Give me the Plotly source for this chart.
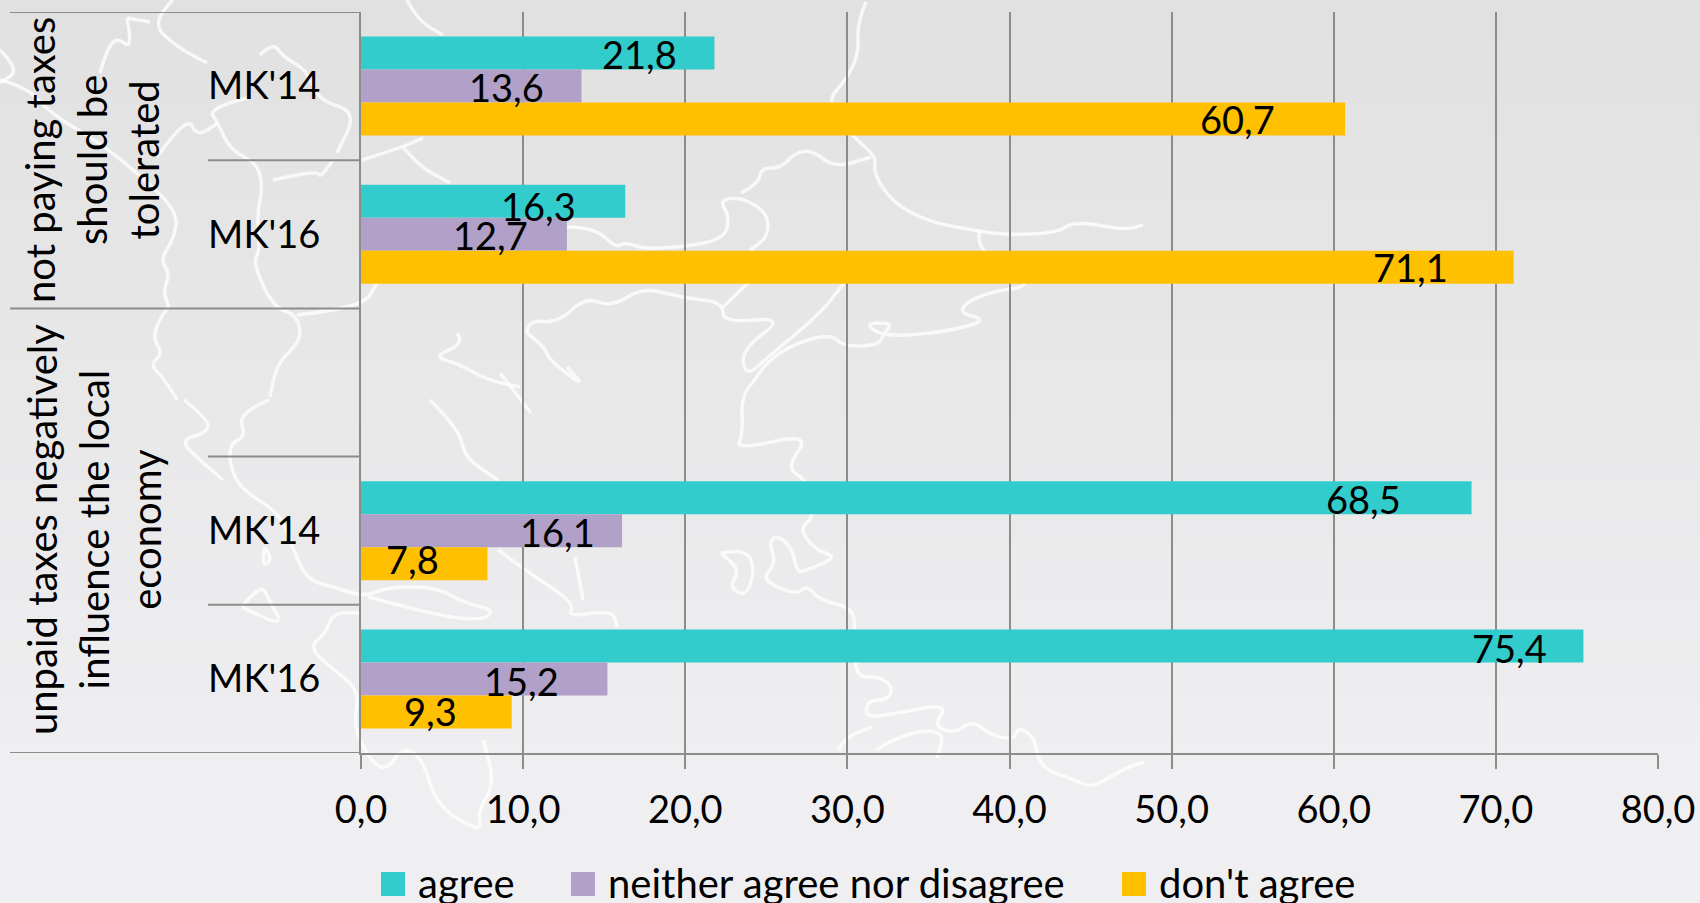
import plotly.graph_objects as go

# ----------------------- data ------------------
slots = ["MK'14", "MK'16", "", "MK'14", "MK'16"]
slot_pos = [0, 1, 2, 3, 4]
groups = ["not paying taxes<br>should be<br>tolerated",
          "unpaid taxes negatively<br>influence the local<br>economy"]

agree = [21.8, 16.3, None, 68.5, 75.4]
neither = [13.6, 12.7, None, 16.1, 15.2]
dont_agree = [60.7, 71.1, None, 7.8, 9.3]

x_ticks = [0, 10, 20, 30, 40, 50, 60, 70, 80]

# ----------------------- style ------------------
FONT = "Lato"
NUM_SIZE = 38
TEXT_SIZE = 40
GRID = "#8c8c8c"
COLORS = ["#33cccc", "#b1a0c7", "#ffc000"]
NAMES = ["agree", "neither agree nor disagree", "don't agree"]

# frame of the plot area in page pixels
LEFT, RIGHT, TOP, BOTTOM = 361, 1658, 12, 753
W, H = 1700, 903

# how far each value label sits back from its bar end (px), and its nudge down
label_back = [[75, 87, None, 108, 74], [75, 76, None, 65, 86], [108, 103, None, 75, 81]]
label_down = [[1, 5, None, 1, 2], [1, 1, None, 1, 2], [0, 0, None, -5, -1]]

# white map outline in the slide background, page pixels
map_lines = [
    [(866, 2), (857, 23), (859, 53), (846, 80), (826, 102), (853, 137), (877, 157), (873, 173), (893, 203),
     (929, 222), (973, 230), (1004, 235), (1058, 233), (1074, 221), (1125, 230), (1143, 225)],
    [(980, 230), (973, 250), (1040, 285), (982, 293), (955, 312), (989, 320), (946, 332), (884, 337), (864, 323),
     (893, 323), (884, 333), (879, 345), (844, 347), (830, 333), (786, 347), (763, 367), (757, 377), (741, 397),
     (743, 433), (736, 450), (811, 433), (786, 468), (807, 480), (815, 517), (799, 528), (815, 550), (838, 557),
     (807, 570), (797, 573), (792, 547), (776, 535), (769, 543), (776, 563), (761, 580), (796, 595), (807, 585),
     (819, 600), (853, 608), (855, 630), (855, 663), (859, 677), (880, 677), (893, 687), (888, 700), (868, 700),
     (865, 717), (888, 715), (949, 703), (933, 727), (956, 733), (972, 720), (991, 735), (1014, 740), (1018, 727),
     (1035, 737), (1039, 767), (1075, 780), (1092, 788), (1125, 768), (1144, 762)],
    [(721, 553), (746, 548), (755, 570), (746, 597), (729, 587), (740, 570), (721, 553)],
    [(838, 750), (845, 737), (872, 727)],
    [(876, 750), (903, 733), (945, 730), (937, 758)],
    [(127, 18), (133, 50), (117, 37), (107, 50), (100, 73)],
    [(173, 0), (150, 22), (177, 47), (207, 63)],
    [(127, 18), (150, 22)],
    [(260, 55), (273, 42), (283, 57), (307, 70), (318, 100), (357, 112), (337, 153)],
    [(247, 98), (208, 108), (218, 123), (230, 150), (257, 163), (263, 187), (257, 213), (260, 250), (253, 263),
     (273, 307), (297, 315), (302, 340), (277, 363), (270, 397)],
    [(157, 157), (187, 115), (197, 137), (218, 123)],
    [(0, 80), (27, 87), (50, 113), (100, 143), (137, 173), (177, 210), (175, 237), (160, 260), (170, 273),
     (163, 293), (170, 307), (163, 313), (152, 337), (163, 353), (150, 365), (163, 377), (177, 400)],
    [(0, 50), (20, 70), (0, 83)],
    [(362, 160), (403, 147), (423, 138)],
    [(403, 147), (420, 167), (450, 183)],
    [(407, 0), (417, 20), (443, 35)],
    [(273, 180), (317, 170), (320, 178), (333, 160)],
    [(297, 315), (362, 308), (377, 283)],
    [(457, 333), (465, 343), (433, 357), (457, 363), (487, 380), (520, 387)],
    [(527, 333), (527, 320), (558, 323), (585, 297), (612, 307), (643, 287), (683, 298), (723, 302), (723, 323),
     (786, 317), (741, 350), (746, 377), (768, 357), (821, 313), (844, 283)],
    [(723, 307), (748, 283)],
    [(527, 333), (545, 347), (549, 360), (585, 387), (567, 367)],
    [(500, 373), (531, 413)],
    [(567, 227), (594, 227), (616, 248), (625, 242), (647, 250), (723, 242), (730, 217), (719, 200), (741, 197),
     (768, 213), (768, 237), (750, 250)],
    [(741, 193), (759, 183), (761, 168), (781, 168), (795, 153), (812, 150), (835, 168), (871, 157)],
    [(184, 400), (209, 420), (207, 433), (179, 440), (203, 463), (223, 480)],
    [(269, 400), (238, 413), (246, 437), (230, 443), (230, 467), (242, 490), (280, 513), (292, 547), (307, 580),
     (334, 587), (364, 597), (387, 587), (437, 587), (464, 603), (495, 610), (483, 620), (445, 617), (368, 597)],
    [(360, 613), (334, 610), (326, 633), (309, 647), (330, 667), (360, 690), (353, 727), (372, 763), (387, 770),
     (403, 747), (422, 757), (437, 807), (483, 833), (477, 813), (495, 783), (483, 740)],
    [(430, 400), (460, 430), (464, 457), (498, 480)],
    [(498, 550), (529, 573), (575, 603), (567, 617), (613, 610), (617, 627)],
    [(575, 557), (583, 600)],
    [(242, 607), (261, 583), (269, 600), (284, 627), (242, 607)],
    [(265, 547), (261, 567), (272, 560), (265, 547)],
]


def px(x):
    return (x - LEFT) / (RIGHT - LEFT)


def py(y):
    return (BOTTOM - y) / (BOTTOM - TOP)


def smooth_path(line):
    # curve through midpoints so the outline doesn't look like a polygon
    pts = [(px(x), py(y)) for x, y in line]
    path = "M%.4f,%.4f" % pts[0]
    for a, b in zip(pts[1:-1], pts[2:]):
        mid = ((a[0] + b[0]) / 2, (a[1] + b[1]) / 2)
        path += "Q%.4f,%.4f %.4f,%.4f" % (a[0], a[1], mid[0], mid[1])
    path += "L%.4f,%.4f" % pts[-1]
    return path


shapes = []

# ----------------------- slide background ------------------
STEPS = 37
for i in range(STEPS):
    t = i / (STEPS - 1)
    shade = (round(225 + 13 * t), round(225 + 13 * t), round(225 + 15 * t))
    shapes.append(dict(type="rect", xref="paper", yref="paper", layer="below", line_width=0,
                       x0=px(0), x1=px(W), y0=py(i * 20), y1=py((i + 1) * 20 + 1),
                       fillcolor="rgb(%d,%d,%d)" % shade))

for line in map_lines:
    shapes.append(dict(type="path", xref="paper", yref="paper", layer="below", path=smooth_path(line),
                       line=dict(color="rgba(255,255,255,0.75)", width=3.5)))

# ----------------------- category dividers ------------------
for y_div, x_start in zip([-0.5, 0.5, 1.5, 2.5, 3.5, 4.5], [10, 208, 10, 208, 208, 10]):
    shapes.append(dict(type="line", xref="paper", yref="y", layer="above",
                       x0=px(x_start), x1=0, y0=y_div, y1=y_div,
                       line=dict(color=GRID, width=2)))

# ----------------------- bars ------------------
series = [agree, neither, dont_agree]
fig = go.Figure()
for name, values, color in zip(NAMES, series, COLORS):
    fig.add_trace(go.Bar(name=name, y=slot_pos, x=values, orientation="h",
                         marker_color=color, marker_line_width=0))

# ----------------------- value labels ------------------
annotations = []
for row, values in enumerate(series):
    for i, v in enumerate(values):
        if v is None:
            continue
        annotations.append(dict(x=v, y=slot_pos[i], xref="x", yref="y", showarrow=False,
                                text=("%.1f" % v).replace(".", ","),
                                xanchor="center", yanchor="middle",
                                xshift=-label_back[row][i],
                                yshift=(1 - row) * 33 - label_down[row][i],
                                font=dict(family=FONT, size=NUM_SIZE, color="black")))

# ----------------------- group labels ------------------
for text, x_mid, y_mid in zip(groups, [92, 94], [160, 530]):
    annotations.append(dict(x=px(x_mid), y=py(y_mid), xref="paper", yref="paper", showarrow=False,
                            text=text, textangle=-90, align="center",
                            xanchor="center", yanchor="middle",
                            font=dict(family=FONT, size=TEXT_SIZE, color="black")))

# ----------------------- legend, drawn to the slide's sizes ------------------
for name, color, x_box in zip(NAMES, COLORS, [381, 571, 1122]):
    shapes.append(dict(type="rect", xref="paper", yref="paper", layer="above", line_width=0,
                       x0=px(x_box), x1=px(x_box + 24), y0=py(872), y1=py(896), fillcolor=color))
    annotations.append(dict(x=px(x_box + 35), y=py(883), xref="paper", yref="paper", showarrow=False,
                            text=name, xanchor="left", yanchor="middle",
                            font=dict(family=FONT, size=TEXT_SIZE, color="black")))

fig.update_layout(
    width=W, height=H,
    margin=dict(l=LEFT, r=W - RIGHT, t=TOP, b=H - BOTTOM),
    paper_bgcolor="#efeff1",
    plot_bgcolor="rgba(0,0,0,0)",
    barmode="group",
    bargap=0.332,
    bargroupgap=0,
    showlegend=False,
    separators=",.",
    font=dict(family=FONT, size=NUM_SIZE, color="black"),
    shapes=shapes,
    annotations=annotations,
)
fig.update_xaxes(range=[0, 80], tickvals=x_ticks, tickformat=".1f", showgrid=True, gridcolor=GRID, gridwidth=1.5,
                 zeroline=False, showline=True, linecolor=GRID, linewidth=2, automargin=False,
                 ticks="outside", ticklen=14, tickwidth=1.5, tickcolor=GRID, ticklabelstandoff=8)
fig.update_yaxes(range=[4.5, -0.5], tickvals=slot_pos, ticktext=slots, showgrid=False, zeroline=False,
                 showline=True, linecolor=GRID, linewidth=2, automargin=False, ticks="", ticklabelstandoff=31)

fig.write_html("out.html", config={"displayModeBar": False},
               post_script="document.body.style.margin='0';")
